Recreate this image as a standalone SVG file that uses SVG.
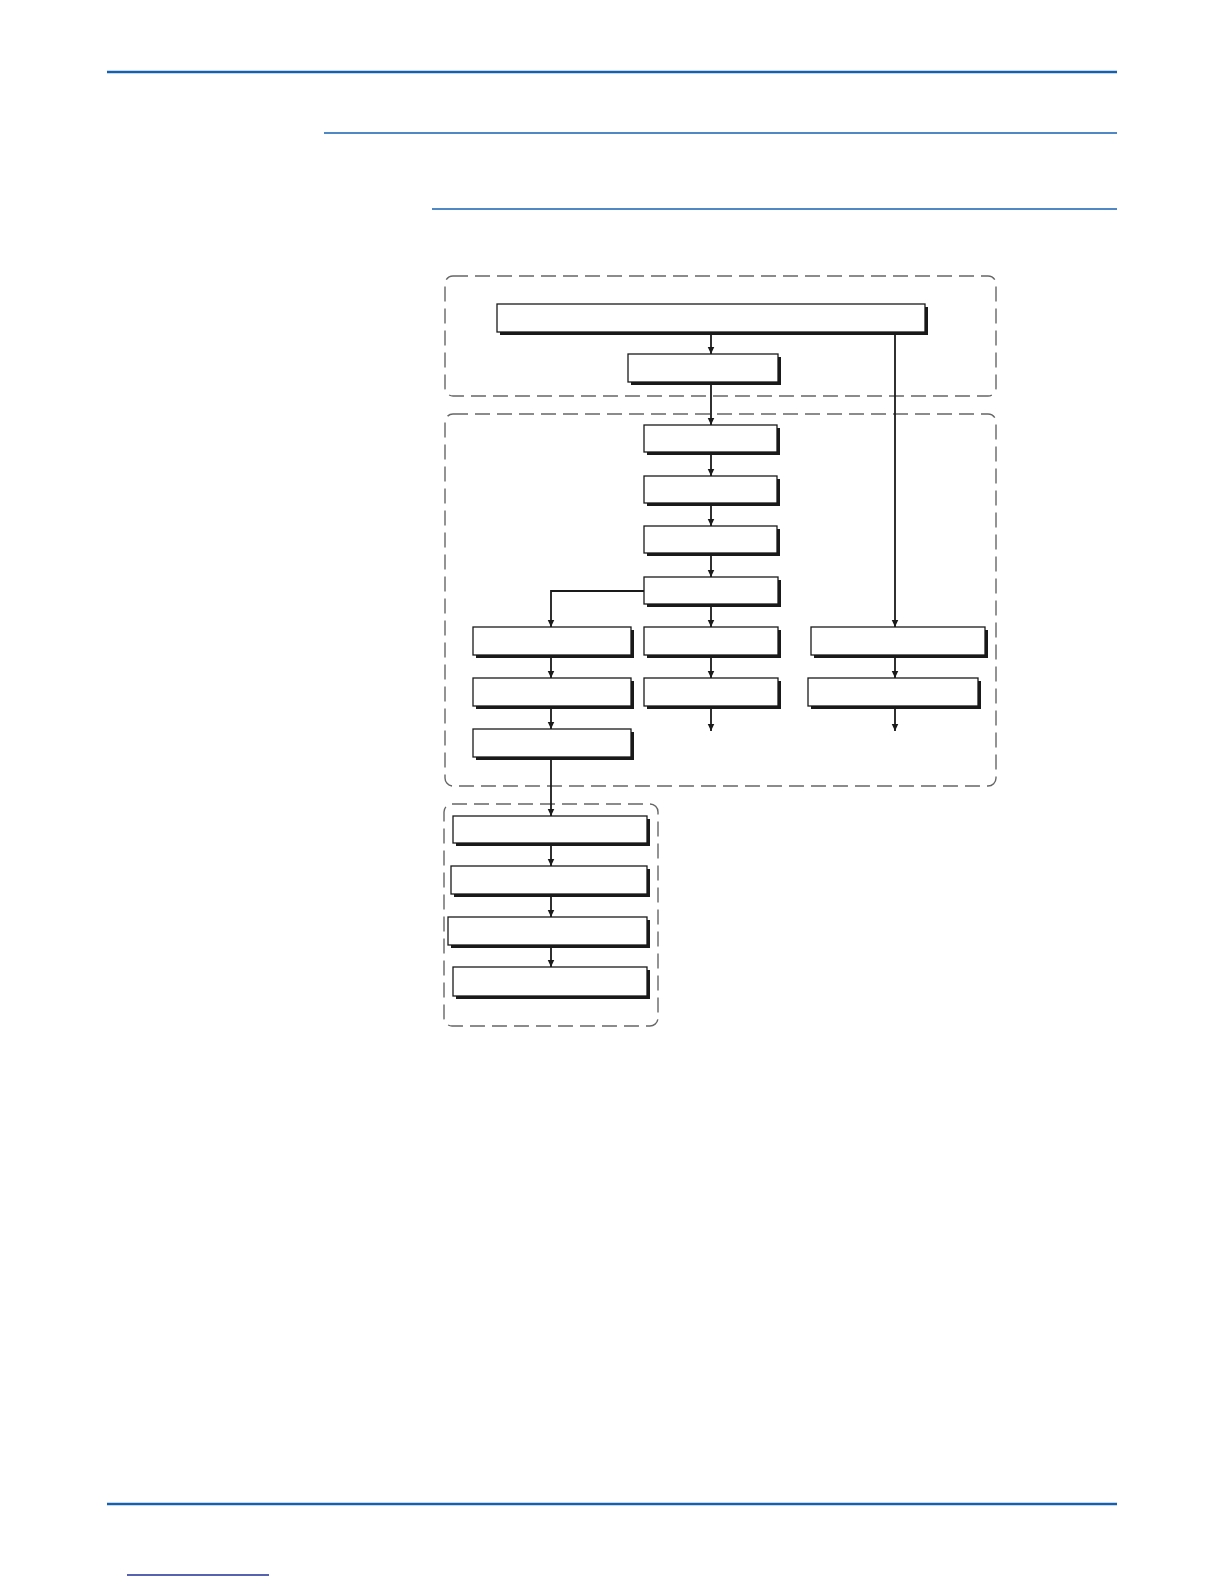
<svg xmlns="http://www.w3.org/2000/svg" width="1224" height="1584" viewBox="0 0 1224 1584">
<style>
.rule{stroke:#1560b0;fill:none}
.grp{fill:none;stroke:#666;stroke-width:1.4;stroke-dasharray:15 7}
.sh{fill:#1a1a1a}
.bx{fill:#fff;stroke:#1a1a1a;stroke-width:1.3}
.cn{fill:none;stroke:#1a1a1a;stroke-width:1.8}
</style>
<defs>
<marker id="ah" markerUnits="userSpaceOnUse" markerWidth="8" markerHeight="8" refX="7.5" refY="3.5" orient="auto">
<path d="M0,0 L7.5,3.5 L0,7 z" fill="#1a1a1a"/>
</marker>
</defs>
<rect width="1224" height="1584" fill="#fff"/>
<g id="rules">
<line class="rule" x1="107" y1="72" x2="1117" y2="72" stroke-width="2.4"/>
<line class="rule" x1="324" y1="133" x2="1117" y2="133" stroke-width="1.4"/>
<line class="rule" x1="432" y1="209" x2="1117" y2="209" stroke-width="1.4"/>
<line class="rule" x1="107" y1="1504" x2="1117" y2="1504" stroke-width="2.4"/>
<line x1="127" y1="1575" x2="269" y2="1575" stroke="#1f2f96" stroke-width="1.3"/>
</g>
<g id="groups">
<rect class="grp" x="445" y="276" width="551" height="120" rx="8"/>
<rect class="grp" x="445" y="414" width="551" height="372" rx="8"/>
<rect class="grp" x="444" y="804" width="214" height="222" rx="8"/>
</g>
<g id="connectors">
<line class="cn" x1="711" y1="332" x2="711" y2="354" marker-end="url(#ah)"/>
<line class="cn" x1="711" y1="382" x2="711" y2="425" marker-end="url(#ah)"/>
<line class="cn" x1="711" y1="452" x2="711" y2="476" marker-end="url(#ah)"/>
<line class="cn" x1="711" y1="503" x2="711" y2="526" marker-end="url(#ah)"/>
<line class="cn" x1="711" y1="553" x2="711" y2="577" marker-end="url(#ah)"/>
<line class="cn" x1="711" y1="604" x2="711" y2="627" marker-end="url(#ah)"/>
<line class="cn" x1="711" y1="655" x2="711" y2="678" marker-end="url(#ah)"/>
<line class="cn" x1="711" y1="706" x2="711" y2="731" marker-end="url(#ah)"/>
<path class="cn" d="M644,591 H551 V627" marker-end="url(#ah)"/>
<line class="cn" x1="551" y1="655" x2="551" y2="678" marker-end="url(#ah)"/>
<line class="cn" x1="551" y1="706" x2="551" y2="729" marker-end="url(#ah)"/>
<line class="cn" x1="551" y1="757" x2="551" y2="816" marker-end="url(#ah)"/>
<line class="cn" x1="551" y1="843" x2="551" y2="866" marker-end="url(#ah)"/>
<line class="cn" x1="551" y1="894" x2="551" y2="917" marker-end="url(#ah)"/>
<line class="cn" x1="551" y1="945" x2="551" y2="967" marker-end="url(#ah)"/>
<line class="cn" x1="895" y1="332" x2="895" y2="627" marker-end="url(#ah)"/>
<line class="cn" x1="895" y1="655" x2="895" y2="678" marker-end="url(#ah)"/>
<line class="cn" x1="895" y1="706" x2="895" y2="731" marker-end="url(#ah)"/>
</g>
<g id="n1"><rect class="sh" x="500" y="307" width="428" height="28"/><rect class="bx" x="497" y="304" width="428" height="28"/></g>
<g id="n2"><rect class="sh" x="631" y="357" width="150" height="28"/><rect class="bx" x="628" y="354" width="150" height="28"/></g>
<g id="n3"><rect class="sh" x="647" y="428" width="133" height="27"/><rect class="bx" x="644" y="425" width="133" height="27"/></g>
<g id="n4"><rect class="sh" x="647" y="479" width="133" height="27"/><rect class="bx" x="644" y="476" width="133" height="27"/></g>
<g id="n5"><rect class="sh" x="647" y="529" width="133" height="27"/><rect class="bx" x="644" y="526" width="133" height="27"/></g>
<g id="n6"><rect class="sh" x="647" y="580" width="134" height="27"/><rect class="bx" x="644" y="577" width="134" height="27"/></g>
<g id="n7"><rect class="sh" x="476" y="630" width="158" height="28"/><rect class="bx" x="473" y="627" width="158" height="28"/></g>
<g id="n8"><rect class="sh" x="647" y="630" width="134" height="28"/><rect class="bx" x="644" y="627" width="134" height="28"/></g>
<g id="n9"><rect class="sh" x="814" y="630" width="174" height="28"/><rect class="bx" x="811" y="627" width="174" height="28"/></g>
<g id="n10"><rect class="sh" x="476" y="681" width="158" height="28"/><rect class="bx" x="473" y="678" width="158" height="28"/></g>
<g id="n11"><rect class="sh" x="647" y="681" width="134" height="28"/><rect class="bx" x="644" y="678" width="134" height="28"/></g>
<g id="n12"><rect class="sh" x="811" y="681" width="170" height="28"/><rect class="bx" x="808" y="678" width="170" height="28"/></g>
<g id="n13"><rect class="sh" x="476" y="732" width="158" height="28"/><rect class="bx" x="473" y="729" width="158" height="28"/></g>
<g id="n14"><rect class="sh" x="456" y="819" width="194" height="27"/><rect class="bx" x="453" y="816" width="194" height="27"/></g>
<g id="n15"><rect class="sh" x="454" y="869" width="196" height="28"/><rect class="bx" x="451" y="866" width="196" height="28"/></g>
<g id="n16"><rect class="sh" x="451" y="920" width="199" height="28"/><rect class="bx" x="448" y="917" width="199" height="28"/></g>
<g id="n17"><rect class="sh" x="456" y="970" width="194" height="29"/><rect class="bx" x="453" y="967" width="194" height="29"/></g>
</svg>
